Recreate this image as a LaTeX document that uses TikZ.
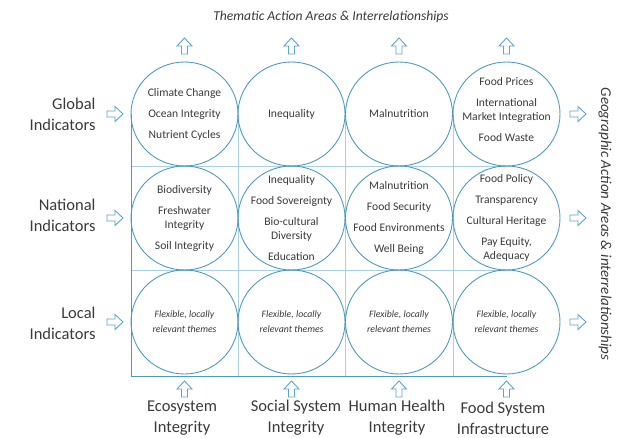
\documentclass[tikz,border=0pt]{standalone}
\usepackage{fontspec}
\setmainfont{Carlito}
\usetikzlibrary{shapes.geometric}

\definecolor{ringblue}{HTML}{4F9BBF}
\definecolor{gridblue}{HTML}{A9D1E2}
\definecolor{arrblue}{HTML}{5BA6C9}
\definecolor{txtgray}{HTML}{3A3A3A}

\tikzset{
  ring/.style={ellipse,draw=ringblue,line width=0.9pt,minimum width=107pt,minimum height=104pt,inner sep=0pt},
  theme/.style={align=center,text=txtgray,font=\fontsize{11.6}{14}\selectfont},
  flex/.style={theme,font=\fontsize{9.8}{15}\selectfont\itshape},
  side/.style={anchor=east,align=right,text=txtgray,font=\fontsize{16.5}{21}\selectfont},
  foot/.style={align=center,text=txtgray,font=\fontsize{16.5}{21}\selectfont},
  heading/.style={text=txtgray,font=\fontsize{13.6}{16}\selectfont\itshape},
  uparr/.pic={\draw[arrblue,line width=0.9pt] (-3,0) -- (-3,-8) -- (-7.5,-8) -- (0,-16) -- (7.5,-8) -- (3,-8) -- (3,0) -- cycle;},
  rarr/.pic={\draw[arrblue,line width=0.9pt] (0,-3) -- (8,-3) -- (8,-7.5) -- (16,0) -- (8,7.5) -- (8,3) -- (0,3) -- cycle;},
}
\def\gap{\\[7pt]}
\def\vl#1{\draw[gridblue,line width=0.6pt] (#1,114) -- (#1,376);}
\def\hl#1{\draw[gridblue,line width=0.6pt] (131,#1) -- (507,#1);}

\begin{document}
\begin{tikzpicture}[x=1pt,y=-1pt]
	\useasboundingbox (0,0) rectangle (617,438);

	% grid
	\vl{238}
	\vl{345}
	\vl{453}
	\hl{166}
	\hl{270}
	\draw[ringblue,line width=0.9pt] (131,114) -- (131,376) -- (507,376);

	% rings
	\foreach \x [count=\i] in {184.5,291.5,399,506.5} {
		\node[ring] (g\i) at (\x,114) {};
		\node[ring] (n\i) at (\x,218) {};
		\node[ring] (l\i) at (\x,322) {};
	}

	% global
	\node[theme] (g1t) at (g1) {Climate Change\gap Ocean Integrity\gap Nutrient Cycles};
	\node[theme] (g2t) at (g2) {Inequality};
	\node[theme] (g3t) at (g3) {Malnutrition};
	\node[theme,yshift=4pt] (g4t) at (g4) {Food Prices\gap International\\Market Integration\gap Food Waste};

	% national
	\node[theme] (n1t) at (n1) {Biodiversity\gap Freshwater\\Integrity\gap Soil Integrity};
	\node[theme] (n2t) at (n2) {Inequality\gap Food Sovereignty\gap Bio-cultural\\Diversity\gap Education};
	\node[theme] (n3t) at (n3) {Malnutrition\gap Food Security\gap Food Environments\gap Well Being};
	\node[theme] (n4t) at (n4) {Food Policy\gap Transparency\gap Cultural Heritage\gap Pay Equity,\\Adequacy};

	% local
	\foreach \i in {1,...,4}
		\node[flex] (l\i t) at (l\i) {Flexible, locally\\relevant themes};

	% arrows
	\foreach \x [count=\i] in {184.5,291.5,399,506.5} {
		\pic (up\i) at (\x,54) {uparr};
		\pic (dn\i) at (\x,397) {uparr};
	}
	\foreach \y [count=\i] in {114,218,322} {
		\pic (in\i) at (107,\y) {rarr};
		\pic (out\i) at (570,\y) {rarr};
	}

	% labels
	\node[heading] (top) at (331,17) {Thematic Action Areas \& Interrelationships};
	\node[heading,font=\fontsize{15}{18}\selectfont\itshape,rotate=-90] (geo) at (605,224) {Geographic Action Areas \& interrelationships};

	\node[side] (glob) at (99,114) {Global\\Indicators};
	\node[side] (nat) at (99,215) {National\\Indicators};
	\node[side] (loc) at (99,323) {Local\\Indicators};

	\node[foot] (eco) at (182,418) {Ecosystem\\Integrity};
	\node[foot] (soc) at (296,418) {Social System\\Integrity};
	\node[foot] (hum) at (397,418) {Human Health\\Integrity};
	\node[foot] (fsi) at (503,418) {Food System\\Infrastructure};
\end{tikzpicture}
\end{document}
